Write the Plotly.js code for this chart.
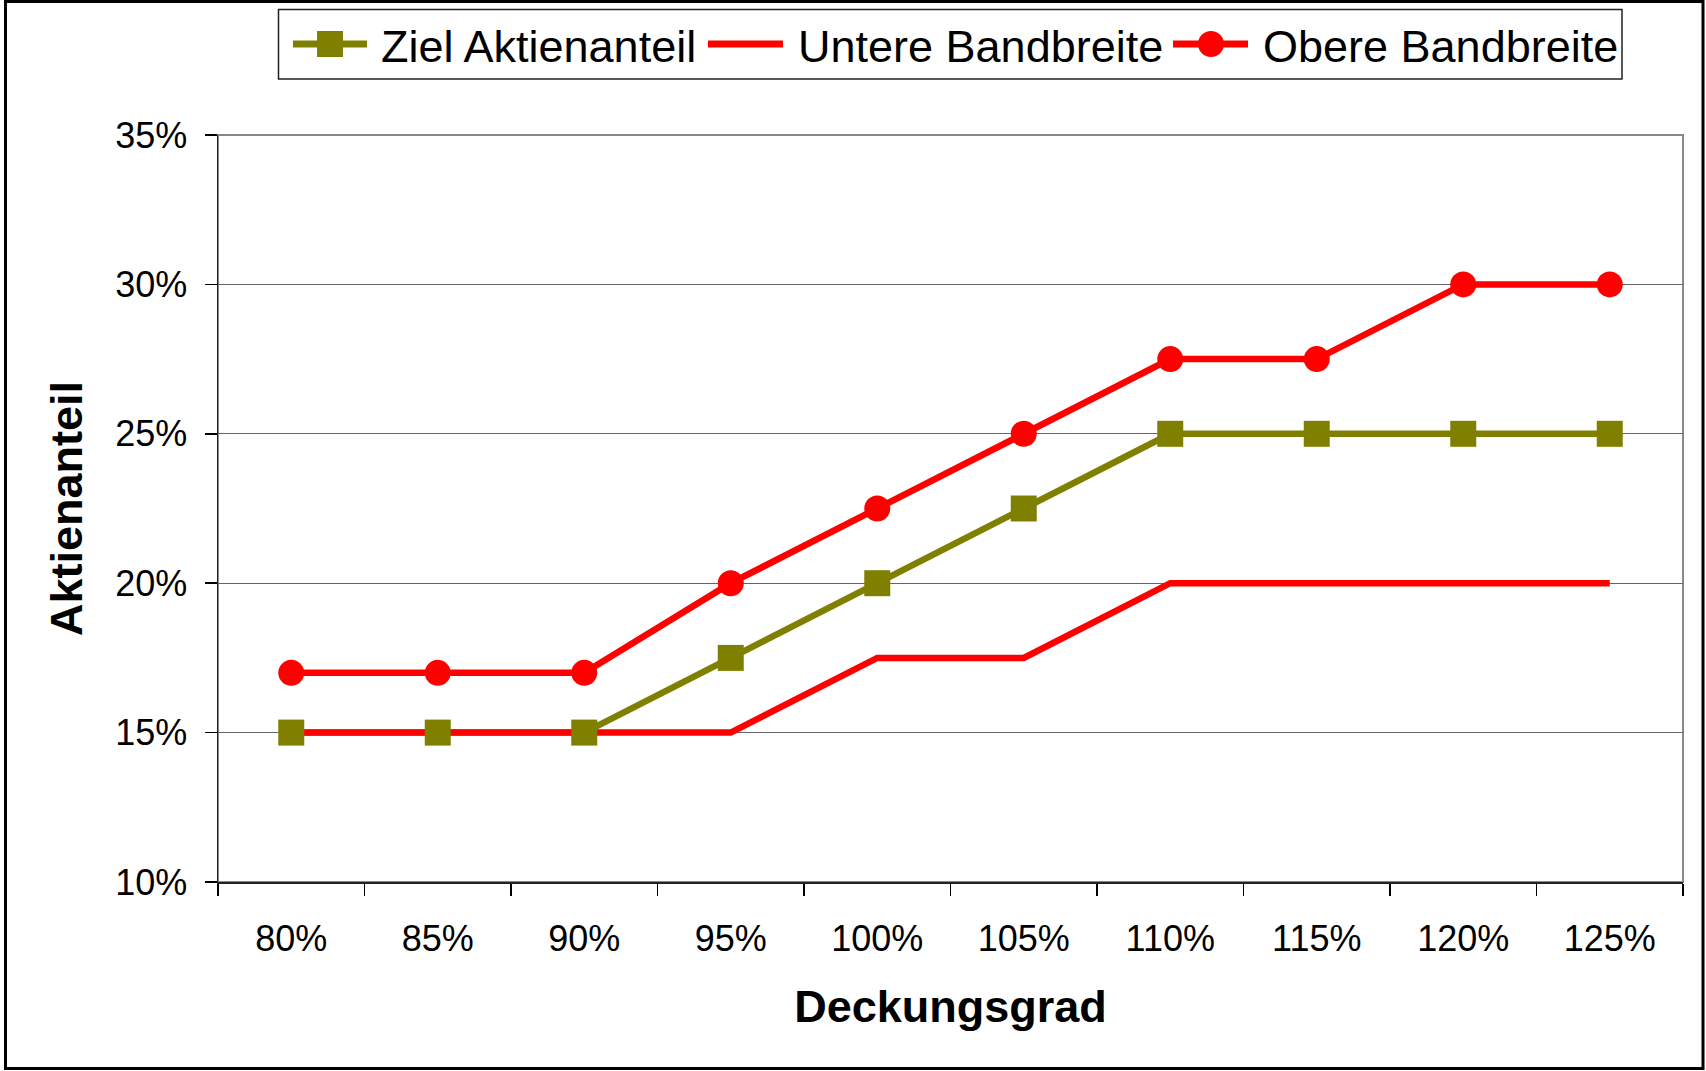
<!DOCTYPE html>
<html>
<head>
<meta charset="utf-8">
<script src="https://cdn.plot.ly/plotly-3.0.1.min.js"></script>
<style>
  html, body { margin: 0; padding: 0; background: #ffffff; }
  #chart { width: 1706px; height: 1071px; }
</style>
</head>
<body>
<div id="chart"></div>
<script>
// ---- data ----
const categories = ["80%", "85%", "90%", "95%", "100%", "105%", "110%", "115%", "120%", "125%"];
const zielAktienanteil = [0.15, 0.15, 0.15, 0.175, 0.20, 0.225, 0.25, 0.25, 0.25, 0.25];
const untereBandbreite = [0.15, 0.15, 0.15, 0.15, 0.175, 0.175, 0.20, 0.20, 0.20, 0.20];
const obereBandbreite  = [0.17, 0.17, 0.17, 0.20, 0.225, 0.25, 0.275, 0.275, 0.30, 0.30];
const seriesNames = ["Ziel Aktienanteil", "Untere Bandbreite", "Obere Bandbreite"];
const yTickVals = [0.10, 0.15, 0.20, 0.25, 0.30, 0.35];
const yTickText = ["10%", "15%", "20%", "25%", "30%", "35%"];

// ---- layout geometry ----
const W = 1706, H = 1071;
const L = 218, R = 1683, T = 135, B = 882;
const PW = R - L, PH = B - T;
const px = x => (x - L) / PW;
const py = y => (B - y) / PH;

const OLIVE = "#808000", RED = "#FF0000";
const FONT = "Liberation Sans, Arial, Helvetica, sans-serif";
const LW = 6.5, MS = 26;

const traces = [
  { x: categories, y: zielAktienanteil, type: "scatter", mode: "lines",
    name: seriesNames[0], line: { color: OLIVE, width: LW }, showlegend: false, hoverinfo: "skip" },
  { x: categories, y: untereBandbreite, type: "scatter", mode: "lines",
    name: seriesNames[1], line: { color: RED, width: LW }, showlegend: false },
  { x: categories, y: zielAktienanteil, type: "scatter", mode: "markers",
    name: seriesNames[0], marker: { color: OLIVE, symbol: "square", size: MS, line: { width: 0 } }, showlegend: false },
  { x: categories, y: obereBandbreite, type: "scatter", mode: "lines+markers",
    name: seriesNames[2], line: { color: RED, width: LW },
    marker: { color: RED, symbol: "circle", size: MS, line: { width: 0 } }, showlegend: false }
];

// custom legend (matches the wide legend keys of the original)
const legY = 44;
const shapes = [
  // plot area frame (gray top/right)
  { type: "rect", xref: "paper", yref: "paper", x0: 0, x1: 1, y0: 0, y1: 1,
    line: { color: "#888888", width: 2 }, layer: "below" },
  // outer chart border
  { type: "rect", xref: "paper", yref: "paper", x0: px(5.5), x1: px(1703), y0: py(1068.5), y1: py(1.5),
    line: { color: "#000000", width: 3 } },
  // legend box
  { type: "rect", xref: "paper", yref: "paper", x0: px(278.5), x1: px(1622), y0: py(79), y1: py(9.5),
    line: { color: "#222222", width: 1.5 }, fillcolor: "#ffffff" },
  // legend keys
  { type: "line", xref: "paper", yref: "paper", x0: px(293), x1: px(367), y0: py(legY), y1: py(legY),
    line: { color: OLIVE, width: 7 } },
  { type: "rect", xref: "paper", yref: "paper", x0: px(330 - 13), x1: px(330 + 13), y0: py(legY + 13), y1: py(legY - 13),
    line: { width: 0 }, fillcolor: OLIVE },
  { type: "line", xref: "paper", yref: "paper", x0: px(708), x1: px(783), y0: py(legY), y1: py(legY),
    line: { color: RED, width: 7 } },
  { type: "line", xref: "paper", yref: "paper", x0: px(1173), x1: px(1248), y0: py(legY), y1: py(legY),
    line: { color: RED, width: 7 } },
  { type: "circle", xref: "paper", yref: "paper", x0: px(1211 - 13), x1: px(1211 + 13), y0: py(legY + 13), y1: py(legY - 13),
    line: { width: 0 }, fillcolor: RED }
];

const legendText = [
  { text: seriesNames[0], x: 379 },
  { text: seriesNames[1], x: 796 },
  { text: seriesNames[2], x: 1261 }
];
const annotations = legendText.map(t => ({
  text: t.text, xref: "paper", yref: "paper", x: px(t.x), y: py(legY + 2),
  xanchor: "left", yanchor: "middle", showarrow: false,
  font: { family: FONT, size: 45, color: "#000000" }
}));

const layout = {
  width: W, height: H,
  margin: { l: L, r: W - R, t: T, b: H - B, pad: 0 },
  paper_bgcolor: "#ffffff", plot_bgcolor: "#ffffff",
  showlegend: false,
  font: { family: FONT, color: "#000000" },
  xaxis: {
    type: "category",
    range: [-0.5, categories.length - 0.5],
    tickson: "boundaries",
    ticks: "outside", ticklen: 12, tickwidth: 1.5, tickcolor: "#000000",
    showline: true, linecolor: "#222222", linewidth: 1.5,
    showgrid: false, zeroline: false,
    tickfont: { family: FONT, size: 36, color: "#000000" },
    ticklabelstandoff: 24,
    title: { text: "Deckungsgrad", font: { family: FONT, size: 45, color: "#000000", weight: "bold" }, standoff: 33 },
    fixedrange: true
  },
  yaxis: {
    range: [0.10, 0.35],
    tickvals: yTickVals, ticktext: yTickText,
    ticks: "outside", ticklen: 12, tickwidth: 1.5, tickcolor: "#000000",
    showline: true, linecolor: "#222222", linewidth: 1.5,
    showgrid: true, gridcolor: "#666666", gridwidth: 1.2,
    zeroline: false,
    tickfont: { family: FONT, size: 36, color: "#000000" },
    ticklabelstandoff: 10,
    title: { text: "Aktienanteil", font: { family: FONT, size: 45, color: "#000000", weight: "bold" }, standoff: 18 },
    fixedrange: true
  },
  shapes: shapes,
  annotations: annotations
};

Plotly.newPlot("chart", traces, layout, { displayModeBar: false, staticPlot: true });
</script>
</body>
</html>
